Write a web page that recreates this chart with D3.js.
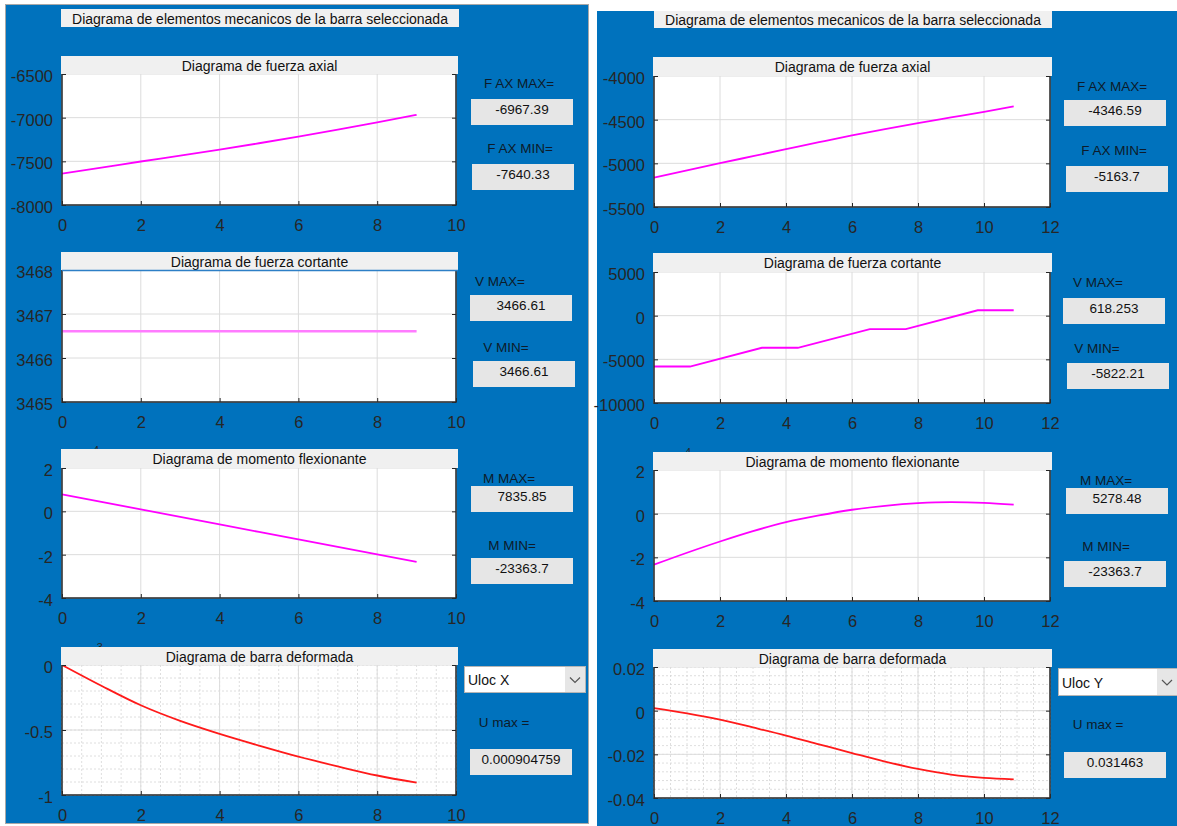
<!DOCTYPE html>
<html><head><meta charset="utf-8">
<script src="https://cdn.jsdelivr.net/npm/d3@7"></script>
<style>
body{margin:0;background:#fff;}
svg{display:block;font-family:"Liberation Sans",Arial,sans-serif;}
</style></head><body>
<svg id="c" width="1177" height="826"></svg>
<script>
// ---------------- DATA ----------------
const mainTitle = "Diagrama de elementos mecanicos de la barra seleccionada";
const plotTitles = ["Diagrama de fuerza axial","Diagrama de fuerza cortante","Diagrama de momento flexionante","Diagrama de barra deformada"];

// left bar (length 9)
const xL = [0,1,2,3,4,5,6,7,8,9];
const axialL = [-7640.33,-7572,-7502,-7435,-7365,-7293,-7218,-7138,-7055,-6967.39];
const shearL = [3466.61,3466.61,3466.61,3466.61,3466.61,3466.61,3466.61,3466.61,3466.61,3466.61];
const momentL = [7835.85,4370,905,-2560,-6030,-9500,-12960,-16430,-19900,-23363.7];
const deformL = [0,-0.00016,-0.00031,-0.00043,-0.00053,-0.00062,-0.000705,-0.00078,-0.00085,-0.000904759];

// right bar (length ~10.9)
const xR = [0,1,2,3,4,5,6,7,8,9,10,10.9];
const axialR = [-5163.7,-5080,-4998,-4918,-4838,-4758,-4680,-4608,-4540,-4475,-4410,-4346.59];
const xShearR = [0,1.09,3.27,4.36,6.54,7.63,9.81,10.9];
const shearR = [-5822.21,-5822.21,-3675,-3675,-1530,-1530,618.253,618.253];
const momentR = [-23363.7,-17900,-12750,-8000,-3900,-800,1800,3600,4800,5278.48,4950,4100];
const deformR = [0.0012,-0.0012,-0.0041,-0.0077,-0.0114,-0.0154,-0.0194,-0.0233,-0.0267,-0.0293,-0.0308,-0.031463];

// tick values / labels
const xTicksL = [0,2,4,6,8,10];
const xTicksR = [0,2,4,6,8,10,12];
const yTicksAxialL = [-8000,-7500,-7000,-6500];
const yTicksShearL = [3465,3466,3467,3468];
const yTicksMoment = [-40000,-20000,0,20000];
const yLabelsMoment = ["-4","-2","0","2"];
const yTicksDeformL = [-0.001,-0.0005,0];
const yLabelsDeformL = ["-1","-0.5","0"];
const yTicksAxialR = [-5500,-5000,-4500,-4000];
const yTicksShearR = [-10000,-5000,0,5000];
const yTicksDeformR = [-0.04,-0.02,0,0.02];
const yLabelsDeformR = ["-0.04","-0.02","0","0.02"];

// result boxes
const labelsL = ["F AX MAX=","F AX MIN=","V MAX=","V MIN=","M MAX=","M MIN=","U max ="];
const valuesL = ["-6967.39","-7640.33","3466.61","3466.61","7835.85","-23363.7","0.000904759"];
const valuesR = ["-4346.59","-5163.7","618.253","-5822.21","5278.48","-23363.7","0.031463"];
const dropdownL = "Uloc X", dropdownR = "Uloc Y";

// ---------------- DRAW ----------------
const svg = d3.select("#c");
const BLUE = "#0072BD", TXT = "#262626", LAB = "#0d1b2a";

// panels
svg.append("rect").attr("x",5).attr("y",4).attr("width",584).attr("height",820).attr("fill","#a8a8a8");
svg.append("rect").attr("x",6).attr("y",5).attr("width",582).attr("height",818).attr("fill",BLUE);
svg.append("rect").attr("x",597).attr("y",11).attr("width",580).attr("height",815).attr("fill",BLUE);

function titleBox(x0,x1,y0,y1,text){
  svg.append("rect").attr("x",x0).attr("y",y0).attr("width",x1-x0).attr("height",y1-y0).attr("fill","#f0f0f0");
  svg.append("text").attr("x",(x0+x1)/2).attr("y",(y0+y1)/2+0.5).attr("text-anchor","middle")
    .attr("dominant-baseline","central").attr("font-size",14).attr("fill","#111").text(text);
}
titleBox(61,459,9,27,mainTitle);
titleBox(654,1052,11,28,mainTitle);

function plot(c){
  const g = svg.append("g");
  const x = d3.scaleLinear().domain(c.xd).range([c.x0,c.x1]);
  const y = d3.scaleLinear().domain(c.yd).range([c.y1,c.y0]);
  g.append("rect").attr("x",c.x0).attr("y",c.y0).attr("width",c.x1-c.x0).attr("height",c.y1-c.y0).attr("fill","#fff");
  if(c.minor){
    g.selectAll(null).data(d3.range(c.xd[0],c.xd[1]+1e-9,c.minor[0])).enter().append("line")
      .attr("x1",d=>x(d)).attr("x2",d=>x(d)).attr("y1",c.y0).attr("y2",c.y1)
      .attr("stroke","#d6d6d6").attr("stroke-width",0.8).attr("stroke-dasharray","2,2");
    g.selectAll(null).data(d3.range(c.yd[0],c.yd[1]+1e-12,c.minor[1])).enter().append("line")
      .attr("y1",d=>y(d)).attr("y2",d=>y(d)).attr("x1",c.x0).attr("x2",c.x1)
      .attr("stroke","#d6d6d6").attr("stroke-width",0.8).attr("stroke-dasharray","2,2");
  }
  g.selectAll(null).data(c.xt).enter().append("line")
    .attr("x1",d=>x(d)).attr("x2",d=>x(d)).attr("y1",c.y0).attr("y2",c.y1)
    .attr("stroke","#dcdcdc").attr("stroke-width",1);
  g.selectAll(null).data(c.yt).enter().append("line")
    .attr("y1",d=>y(d)).attr("y2",d=>y(d)).attr("x1",c.x0).attr("x2",c.x1)
    .attr("stroke","#dcdcdc").attr("stroke-width",1);
  // series
  const pts = c.xs.map((v,i)=>[v,c.ys[i]]);
  g.append("path").datum(pts)
    .attr("d",d3.line().x(d=>x(d[0])).y(d=>y(d[1])).curve(c.curve||d3.curveMonotoneX))
    .attr("fill","none").attr("stroke",c.color).attr("stroke-width",c.lw||1.8);
  // axes
  const ax = g.append("g").attr("transform",`translate(0,${c.y1})`)
    .call(d3.axisBottom(x).tickValues(c.xt).tickSizeInner(-4).tickSizeOuter(0).tickPadding(14).tickFormat(d3.format("d")));
  const ay = g.append("g").attr("transform",`translate(${c.x0},0)`)
    .call(d3.axisLeft(y).tickValues(c.yt).tickSizeInner(-4).tickSizeOuter(0).tickPadding(9)
      .tickFormat((d,i)=>c.yl?c.yl[i]:String(d)));
  const ar = g.append("g").attr("transform",`translate(${c.x1},0)`)
    .call(d3.axisRight(y).tickValues(c.yt).tickSizeInner(-4).tickSizeOuter(0).tickFormat(""));
  [ax,ay,ar].forEach(a=>{
    a.select(".domain").remove();
    a.selectAll(".tick line").attr("stroke",TXT).attr("stroke-width",1);
    a.selectAll(".tick text").attr("fill",TXT).attr("font-size",16.5)
      .attr("font-family",'"Liberation Sans",Arial,sans-serif');
  });
  ay.selectAll(".tick text").attr("dy","0.45em");
  // box lines
  g.append("path").attr("d",`M${c.x0},${c.y0}V${c.y1}H${c.x1}V${c.y0}`)
    .attr("fill","none").attr("stroke","#2b2b2b").attr("stroke-width",1.5);
  // exponent label (mostly hidden under title bar)
  if(c.exp){
    const t = g.append("text").attr("x",c.x0+3).attr("y",c.y0-6).attr("fill",TXT).attr("font-size",16.5);
    t.append("tspan").text("×10");
    t.append("tspan").attr("font-size",11).attr("dy",-8).text(c.exp);
  }
  // title bar
  g.append("rect").attr("x",c.x0-1).attr("y",c.tb).attr("width",c.x1-c.x0+3).attr("height",c.y0-c.tb).attr("fill","#f0f0f0");
  g.append("text").attr("x",(c.x0-1+c.x1+2)/2).attr("y",(c.tb+c.y0)/2+0.5).attr("text-anchor","middle")
    .attr("dominant-baseline","central").attr("font-size",14).attr("fill","#111").text(c.title);
  if(c.topLine){
    g.append("line").attr("x1",c.x0).attr("x2",c.x1+2).attr("y1",c.y0+0.5).attr("y2",c.y0+0.5)
      .attr("stroke","#2d7fc6").attr("stroke-width",1.5);
  }
}

const MAG = "#ff00ff", RED = "#ff1a1a";
// left
plot({x0:62,x1:456,y0:74,y1:205,tb:56,xd:[0,10],yd:[-8000,-6500],xt:xTicksL,yt:yTicksAxialL,xs:xL,ys:axialL,color:MAG,title:plotTitles[0]});
plot({x0:62,x1:456,y0:270,y1:402,tb:252,xd:[0,10],yd:[3465,3468],xt:xTicksL,yt:yTicksShearL,xs:xL,ys:shearL,color:"#ff7cff",lw:2.5,title:plotTitles[1],topLine:true});
plot({x0:62,x1:456,y0:468,y1:598,tb:449,xd:[0,10],yd:[-40000,20000],xt:xTicksL,yt:yTicksMoment,yl:yLabelsMoment,xs:xL,ys:momentL,color:MAG,title:plotTitles[2],exp:"4",curve:d3.curveLinear});
plot({x0:62,x1:456,y0:665,y1:795,tb:647,xd:[0,10],yd:[-0.001,0],xt:xTicksL,yt:yTicksDeformL,yl:yLabelsDeformL,xs:xL,ys:deformL,color:RED,title:plotTitles[3],minor:[0.5,0.0001],exp:"-3"});
// right
plot({x0:654,x1:1050,y0:76,y1:207,tb:57,xd:[0,12],yd:[-5500,-4000],xt:xTicksR,yt:yTicksAxialR,xs:xR,ys:axialR,color:MAG,title:plotTitles[0]});
plot({x0:654,x1:1050,y0:272,y1:403,tb:253,xd:[0,12],yd:[-10000,5000],xt:xTicksR,yt:yTicksShearR,xs:xShearR,ys:shearR,color:MAG,title:plotTitles[1],curve:d3.curveLinear});
plot({x0:654,x1:1050,y0:470,y1:601,tb:452,xd:[0,12],yd:[-40000,20000],xt:xTicksR,yt:yTicksMoment,yl:yLabelsMoment,xs:xR,ys:momentR,color:MAG,title:plotTitles[2],exp:"4"});
plot({x0:654,x1:1050,y0:667,y1:798,tb:649,xd:[0,12],yd:[-0.04,0.02],xt:xTicksR,yt:yTicksDeformR,yl:yLabelsDeformR,xs:xR,ys:deformR,color:RED,title:plotTitles[3],minor:[0.5,0.004]});

// labels and value boxes
const labPosL = [[519,83],[520,148],[500,281],[506,347],[509,478],[512,545],[504,722]];
const boxPosL = [[471,99],[472,164],[470,295],[473,361],[471,486],[471,558],[470,749]];
const labPosR = [[1112,86],[1114,150],[1098,282],[1097,348],[1106,480],[1106,546],[1098,724]];
const boxPosR = [[1064,100],[1066,166],[1063,298],[1067,363],[1066,488],[1064,561],[1064,752]];
function results(labPos,boxPos,vals){
  labelsL.forEach((l,i)=>{
    svg.append("text").attr("x",labPos[i][0]).attr("y",labPos[i][1]).attr("text-anchor","middle")
      .attr("dominant-baseline","central").attr("font-size",13.5).attr("fill",LAB).text(l);
    svg.append("rect").attr("x",boxPos[i][0]).attr("y",boxPos[i][1]).attr("width",102).attr("height",26).attr("fill","#e6e6e6");
    svg.append("text").attr("x",boxPos[i][0]+51).attr("y",boxPos[i][1]+10).attr("text-anchor","middle")
      .attr("dominant-baseline","central").attr("font-size",13.5).attr("fill","#111").text(vals[i]);
  });
}
results(labPosL,boxPosL,valuesL);
results(labPosR,boxPosR,valuesR);

function dropdown(x0,x1,y0,y1,text){
  svg.append("rect").attr("x",x0+0.5).attr("y",y0+0.5).attr("width",x1-x0-1).attr("height",y1-y0-1).attr("fill","#fff").attr("stroke","#b5b5b5");
  svg.append("rect").attr("x",x1-21).attr("y",y0+1).attr("width",20).attr("height",y1-y0-2).attr("fill","#e6e6e6");
  const cx = x1-11, cy=(y0+y1)/2;
  svg.append("path").attr("d",`M${cx-5},${cy-2}L${cx},${cy+3}L${cx+5},${cy-2}`).attr("fill","none").attr("stroke","#555").attr("stroke-width",1.2);
  svg.append("text").attr("x",x0+4).attr("y",cy+0.5).attr("dominant-baseline","central").attr("font-size",14).attr("fill","#111").text(text);
}
dropdown(464,586,666,693,dropdownL);
dropdown(1058,1178,668,696,dropdownR);
</script></body></html>
